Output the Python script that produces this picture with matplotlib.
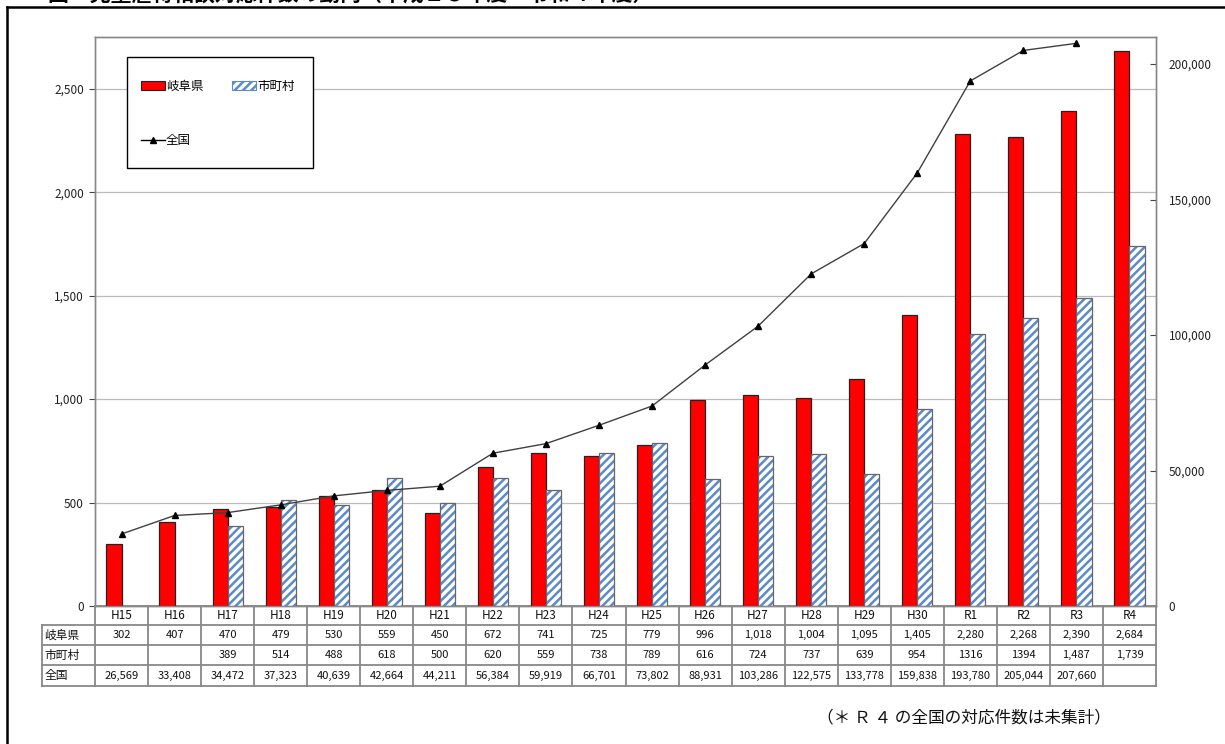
import matplotlib
matplotlib.use("Agg")
import matplotlib.pyplot as plt
from matplotlib.patches import Patch, Rectangle
from matplotlib.lines import Line2D
import numpy as np

plt.rcParams['font.family'] = ['Noto Sans CJK JP', 'DejaVu Sans']
plt.rcParams['hatch.linewidth'] = 1.8

# ---- data ----
years = ['H15', 'H16', 'H17', 'H18', 'H19', 'H20', 'H21', 'H22', 'H23', 'H24',
         'H25', 'H26', 'H27', 'H28', 'H29', 'H30', 'R1', 'R2', 'R3', 'R4']
gifu = [302, 407, 470, 479, 530, 559, 450, 672, 741, 725,
        779, 996, 1018, 1004, 1095, 1405, 2280, 2268, 2390, 2684]
city = [np.nan, np.nan, 389, 514, 488, 618, 500, 620, 559, 738,
        789, 616, 724, 737, 639, 954, 1316, 1394, 1487, 1739]
national = [26569, 33408, 34472, 37323, 40639, 42664, 44211, 56384, 59919, 66701,
            73802, 88931, 103286, 122575, 133778, 159838, 193780, 205044, 207660, np.nan]

# table text as printed in the source
gifu_labels = ['302', '407', '470', '479', '530', '559', '450', '672', '741', '725',
               '779', '996', '1,018', '1,004', '1,095', '1,405', '2,280', '2,268', '2,390', '2,684']
city_labels = ['', '', '389', '514', '488', '618', '500', '620', '559', '738',
               '789', '616', '724', '737', '639', '954', '1316', '1394', '1,487', '1,739']
national_labels = ['26,569', '33,408', '34,472', '37,323', '40,639', '42,664', '44,211', '56,384',
                   '59,919', '66,701', '73,802', '88,931', '103,286', '122,575', '133,778',
                   '159,838', '193,780', '205,044', '207,660', '']

W, H = 1225, 744
fig = plt.figure(figsize=(W / 100, H / 100), dpi=100)
fig.patch.set_facecolor('white')

def fx(p):
    return p / W

def fy(p):
    return 1 - p / H

# outer frame (runs off the right / bottom edges)
fig.add_artist(Line2D([fx(7), fx(7)], [fy(7), fy(760)], color='black', lw=1.8))
fig.add_artist(Line2D([fx(7), fx(1240)], [fy(7), fy(7)], color='black', lw=1.8))

# title, cut off at the top like in the source
fig.text(fx(48), fy(1), '図　児童虐待相談対応件数の動向（平成１５年度～令和４年度）',
         ha='left', va='baseline', fontsize=15, fontweight='bold')

# ---- axes ----
L, R, T, B = 95, 1156, 37, 606
ax = fig.add_axes([fx(L), fy(B), fx(R - L), (B - T) / H])
ax2 = ax.twinx()

x = np.arange(len(years))
bw = 0.285
ax.bar(x - bw / 2, gifu, bw, color='#FF0000', edgecolor='#222222', lw=0.9, zorder=3)
ax.bar(x + bw / 2, city, bw, color='white', edgecolor='#5B8BC9', hatch='////', lw=0, zorder=3)
ax.bar(x + bw / 2, city, bw, color='none', edgecolor='#666666', lw=0.9, zorder=4)

ax2.plot(x, national, color='#404040', lw=1.0, marker='^', markersize=5,
         markerfacecolor='black', markeredgecolor='black', zorder=5)

ax.set_xlim(-0.5, len(years) - 0.5)
ax.set_ylim(0, 2750)
ax2.set_ylim(0, 210000)
ax.set_yticks([0, 500, 1000, 1500, 2000, 2500])
ax.set_yticklabels(['0', '500', '1,000', '1,500', '2,000', '2,500'])
ax2.set_yticks([0, 50000, 100000, 150000, 200000])
ax2.set_yticklabels(['0', '50,000', '100,000', '150,000', '200,000'])
ax.set_xticks([])
ax.grid(axis='y', color='#BBBBBB', lw=0.9, zorder=0)
ax.set_axisbelow(True)

ax.tick_params(axis='y', labelsize=8.5, length=4, color='#444444', labelcolor='#222222', pad=4)
ax2.tick_params(axis='y', labelsize=8.5, length=4, direction='in', color='#444444',
                labelcolor='#222222', pad=9)
for a in (ax, ax2):
    for s in a.spines.values():
        s.set_color('#888888')
        s.set_linewidth(1.0)

# ---- legend: frame drawn by hand, entries via legend() ----
fig.add_artist(Rectangle((fx(127), fy(168)), fx(313 - 127), (168 - 57) / H,
                         facecolor='white', edgecolor='black', lw=1.0, zorder=9))
handles = [Patch(facecolor='#FF0000', edgecolor='#222222', lw=0.8),
           Line2D([], [], color='black', lw=1.0, marker='^', markersize=5),
           Patch(facecolor='white', edgecolor='#5B8BC9', hatch='////', lw=0.8)]
labels = ['岐阜県', '全国', '市町村']
leg = fig.legend(handles, labels, ncol=2, loc='upper left',
                 bbox_to_anchor=(fx(141), fy(80)),
                 fontsize=9, frameon=False, labelspacing=3.3, columnspacing=2.3,
                 handlelength=1.9, handletextpad=0.1, borderpad=0, borderaxespad=0)
leg.set_zorder(10)

# ---- data table under the chart ----
rows = [606, 625, 645, 665, 686]
ha_ = (B - T)
def ay(p):
    return -(p - B) / ha_

n = len(years)
line_kw = dict(color='#888888', lw=1.3, transform=ax.transAxes, clip_on=False)
ax.add_line(Line2D([0, 1], [ay(rows[0]), ay(rows[0])], **line_kw))
lab_left = (42 - L) / (R - L)
for p in rows[1:]:
    ax.add_line(Line2D([lab_left, 1], [ay(p), ay(p)], **line_kw))
for i in range(n + 1):
    xa = i / n
    ax.add_line(Line2D([xa, xa], [ay(rows[0]), ay(rows[-1])], **line_kw))
ax.add_line(Line2D([lab_left, lab_left], [ay(rows[1]), ay(rows[-1])], **line_kw))

row_texts = [years, gifu_labels, city_labels, national_labels]
row_names = [None, '岐阜県', '市町村', '全国']
for r, texts in enumerate(row_texts):
    yc = ay((rows[r] + rows[r + 1]) / 2)
    fs = 8.5 if r == 0 else 8
    for i, t in enumerate(texts):
        ax.text((i + 0.5) / n, yc, t, transform=ax.transAxes, ha='center', va='center',
                fontsize=fs, color='#111111')
    if row_names[r]:
        ax.text(lab_left + 0.002, yc, row_names[r], transform=ax.transAxes,
                ha='left', va='center', fontsize=8.5, color='#111111')

fig.text(fx(1111), fy(718), '（＊ Ｒ ４ の全国の対応件数は未集計）', ha='right', va='center',
         fontsize=12, color='#111111')

fig.savefig('out.png', dpi=100, facecolor='white')
